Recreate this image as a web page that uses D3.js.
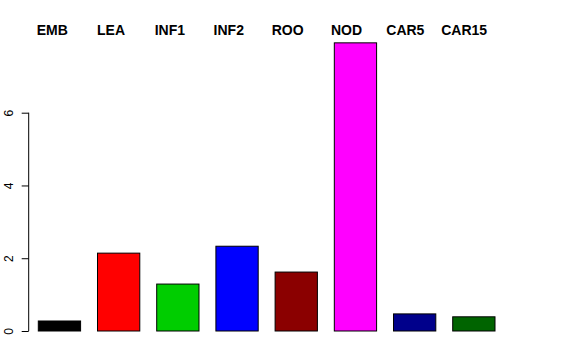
<!DOCTYPE html>
<html>
<head>
<meta charset="utf-8">
<script src="https://cdn.jsdelivr.net/npm/d3@7"></script>
<style>
  html, body { margin: 0; padding: 0; background: #fff; }
  svg { display: block; }
</style>
</head>
<body>
<svg id="chart" width="576" height="360"></svg>
<script>
const categories = ["EMB", "LEA", "INF1", "INF2", "ROO", "NOD", "CAR5", "CAR15"];
const values = [0.275, 2.14, 1.29, 2.33, 1.62, 7.92, 0.47, 0.39];
const colors = ["#000000", "#FF0000", "#00CD00", "#0000FF", "#8B0000", "#FF00FF", "#00008B", "#006400"];
const yTicks = [0, 2, 4, 6];

const svg = d3.select("#chart");

const x = d3.scaleBand()
  .domain(categories)
  .range([38.3, 495])
  .paddingInner(0.4 / 1.4)
  .paddingOuter(0);

const y = d3.scaleLinear()
  .domain([0, 6])
  .range([331, 112.7]);

// Label positions (evenly spaced, centered)
const xl = d3.scalePoint()
  .domain(categories)
  .range([52.2, 464.2]);

// Bars
svg.append("g")
  .selectAll("rect")
  .data(categories)
  .join("rect")
  .attr("x", d => x(d))
  .attr("width", x.bandwidth())
  .attr("y", (d, i) => y(values[i]))
  .attr("height", (d, i) => y(0) - y(values[i]))
  .attr("fill", (d, i) => colors[i])
  .attr("stroke", "#000")
  .attr("stroke-width", 1);

// Y axis
const yAxis = d3.axisLeft(y)
  .tickValues(yTicks)
  .tickSize(7)
  .tickPadding(0)
  .tickFormat(d3.format("d"));

const gy = svg.append("g")
  .attr("transform", "translate(28.7,0)")
  .call(yAxis);

gy.select(".domain")
  .attr("d", `M0,${y(6)}V${y(0)}`)
  .attr("stroke", "#000");
gy.selectAll(".tick line").attr("stroke", "#000");
gy.selectAll(".tick text")
  .attr("font-family", "Liberation Sans, Arial, sans-serif")
  .attr("font-size", 12)
  .attr("fill", "#000")
  .attr("x", 0)
  .attr("y", 0)
  .attr("dy", "0.35em")
  .attr("text-anchor", "middle")
  .attr("transform", "translate(-20,0) rotate(-90)");

// Top labels
svg.append("g")
  .selectAll("text")
  .data(categories)
  .join("text")
  .attr("x", d => xl(d))
  .attr("y", 35)
  .attr("text-anchor", "middle")
  .attr("font-family", "Liberation Sans, Arial, sans-serif")
  .attr("font-weight", "bold")
  .attr("font-size", 14)
  .attr("fill", "#000")
  .text(d => d);
</script>
</body>
</html>
